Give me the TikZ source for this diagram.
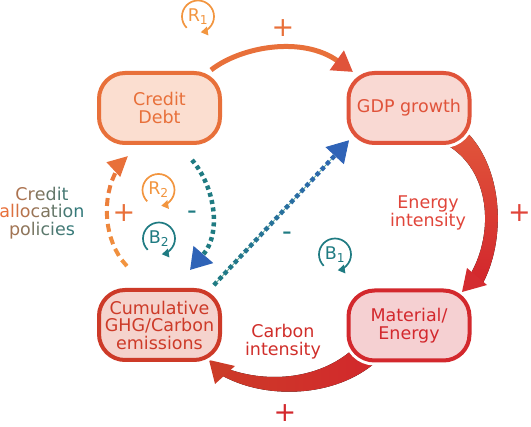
\documentclass[tikz,border=0pt]{standalone}
\usepackage{fontspec}
\setmainfont{DejaVu Sans}
\usetikzlibrary{arrows.meta,calc,decorations.markings}
\definecolor{corange}{RGB}{232,112,58}
\definecolor{lorange}{RGB}{242,149,63}
\definecolor{cteal}{RGB}{31,123,130}
\definecolor{cblue}{RGB}{47,99,183}
\definecolor{thinl}{RGB}{100,170,150}
\definecolor{gdpred}{RGB}{224,83,58}
\definecolor{cumred}{RGB}{205,58,40}
\definecolor{matred}{RGB}{211,40,45}
\definecolor{credfill}{RGB}{251,222,208}
\definecolor{gdpfill}{RGB}{249,217,211}
\definecolor{cumfill}{RGB}{245,211,205}
\definecolor{matfill}{RGB}{245,208,210}
\definecolor{enred}{RGB}{224,69,58}
\definecolor{carred}{RGB}{208,46,42}
\definecolor{wtop}{RGB}{226,88,60}
\definecolor{wbot}{RGB}{210,38,44}
\definecolor{wtip}{RGB}{212,44,48}
\definecolor{bleft}{RGB}{205,58,40}
\definecolor{bright}{RGB}{210,40,44}
\definecolor{btip}{RGB}{204,60,40}
\newcommand\gl[2]{\textcolor{corange!#1!cteal}{#2}}
\tikzset{
 box/.style={rectangle, rounded corners=26pt, minimum width=121pt, minimum height=70pt, line width=4pt, align=center, inner sep=0pt, font=\fontsize{17.5}{17.5}\selectfont, preaction={draw=white, line width=10pt}},
 lbl/.style={align=center, inner sep=0pt, font=\fontsize{17.5}{17.5}\selectfont},
 sign/.style={inner sep=0pt, font=\fontsize{27}{27}\selectfont},
 loopt/.style={inner sep=0pt, font=\fontsize{17.5}{17.5}\selectfont},
 loopc/.style={line width=1.7pt, -{Triangle[length=7pt,width=8.5pt]}},
}
\begin{document}
\begin{tikzpicture}[x=1pt,y=-1pt]
\useasboundingbox (0,0) rectangle (531,427);
% tapered wedges
\fill[top color=wtop, bottom color=wbot] (460,126) .. controls (502,160) and (508,235) .. (483,283) -- (470,275) .. controls (495,232) and (490,170) .. (447,145) -- cycle;
\fill[wtip] (467,268) -- (487,285) -- (462,292) -- cycle;
\fill[left color=bleft, right color=bright] (352,350) .. controls (320,378) and (270,384) .. (228,369) -- (221,375) .. controls (265,400) and (335,398) .. (376,362) -- cycle;
\fill[btip] (215,384) -- (235,366) -- (209,360) -- cycle;
% boxes
\node[box, draw=corange, fill=credfill, text=corange] (credit) at (159.5,108) {Credit\\Debt};
\node[box, draw=gdpred, fill=gdpfill, text=gdpred] (gdp) at (409,108) {GDP growth};
\node[box, draw=cumred, fill=cumfill, text=cumred] (cum) at (159.5,325) {Cumulative\\GHG/Carbon\\emissions};
\node[box, draw=matred, fill=matfill, text=matred] (mat) at (409,325.5) {Material/\\Energy};
% connector end points
\coordinate (a1s) at ($(credit.north east)+(-11,-1)$);
\coordinate (a1e) at ($(gdp.north west)+(6.5,1)$);
\coordinate (b1s) at ($(cum.north east)+(-8,-3)$);
\coordinate (b1e) at ($(gdp.south west)+(2.5,-4.7)$);
\coordinate (c1s) at ($(credit.south)+(32.5,15)$);
\coordinate (c1e) at ($(cum.north)+(30.5,-18)$);
\coordinate (d1s) at ($(cum.north)+(-32.5,-22)$);
\coordinate (d1e) at ($(credit.south)+(-31.5,11)$);
% Credit -> GDP
\draw[corange, line width=5pt, -{Triangle[length=20pt,width=23pt,color=gdpred]}] (a1s) .. controls +(31,-24) and +(-50,-36) .. (a1e);
% Cumulative -> GDP (dotted gradient)
\draw[thinl, line width=0.8pt, -{Triangle[length=21pt,width=25pt,color=cblue]},
 postaction={decorate, decoration={markings, mark=between positions 2pt and -22pt step 7.5pt with {\pgfmathsetmacro\mypct{\pgfkeysvalueof{/pgf/decoration/mark info/distance from start}/\pgfdecoratedpathlength*100}\fill[solid, cblue!\mypct!cteal] (-2.2pt,-2.2pt) rectangle (2.2pt,2.2pt);}}}]
 (b1s) -- (b1e);
% Credit -> Cumulative (teal dotted)
\draw[cteal, line width=4.5pt, dash pattern=on 4pt off 3.5pt, -{Triangle[length=20.5pt,width=25pt,color=cblue]}] (c1s) .. controls +(23,27) and +(32,-37) .. (c1e);
% Cumulative -> Credit (orange dashed)
\draw[line width=4pt, dash pattern=on 0pt off 500pt, -{Triangle[length=20pt,width=19pt,color=corange]},
 postaction={decorate, decoration={markings, mark=between positions 4pt and -20pt step 13pt with {\pgfmathsetmacro\mypct{\pgfkeysvalueof{/pgf/decoration/mark info/distance from start}/\pgfdecoratedpathlength*100}\draw[solid, arrows=-, line width=4pt, corange!\mypct!lorange] (-4pt,0pt) -- (4pt,0pt);}}}]
 (d1s) .. controls +(-27,-28) and +(-28,26) .. (d1e);
% loop markers
\node[loopt, text=lorange] (r1) at (198,16.5) {R\textsubscript{1}};
\draw[lorange, loopc] ([shift={(225:16pt)}]r1.center) arc[start angle=225, end angle=-80, radius=16pt];
\node[loopt, text=lorange] (r2) at (158.5,190) {R\textsubscript{2}};
\draw[lorange, loopc] ([shift={(225:16pt)}]r2.center) arc[start angle=225, end angle=-80, radius=16pt];
\node[loopt, text=cteal] (b2) at (159,238.5) {B\textsubscript{2}};
\draw[cteal, loopc] ([shift={(225:16pt)}]b2.center) arc[start angle=225, end angle=-80, radius=16pt];
\node[loopt, text=cteal] (b1) at (335,254.5) {B\textsubscript{1}};
\draw[cteal, loopc] ([shift={(225:16pt)}]b1.center) arc[start angle=225, end angle=-80, radius=16pt];
% labels
\node[lbl, text=enred] (eint) at (428,213) {Energy\\intensity};
\node[lbl, text=carred] (cint) at (283,341.5) {Carbon\\intensity};
\node[lbl] (cap) at (42,213) {\gl{70}{C}\gl{60}{r}\gl{48}{e}\gl{35}{d}\gl{25}{i}\gl{20}{t}\\
\gl{100}{a}\gl{95}{l}\gl{90}{l}\gl{75}{o}\gl{60}{c}\gl{48}{a}\gl{35}{t}\gl{30}{i}\gl{20}{o}\gl{10}{n}\\
\gl{65}{p}\gl{55}{o}\gl{45}{l}\gl{40}{i}\gl{30}{c}\gl{25}{i}\gl{20}{e}\gl{12}{s}};
% signs
\node[sign, text=corange] (p1) at (283,28) {+};
\node[sign, text=enred] (p2) at (519.5,213) {+};
\node[sign, text=matred] (p3) at (285,413) {+};
\node[sign, text=corange] (p4) at (124,213) {+};
\node[sign, text=cteal] (m1) at (192,215) {-};
\node[sign, text=cteal] (m2) at (287,236) {-};
\end{tikzpicture}
\end{document}
